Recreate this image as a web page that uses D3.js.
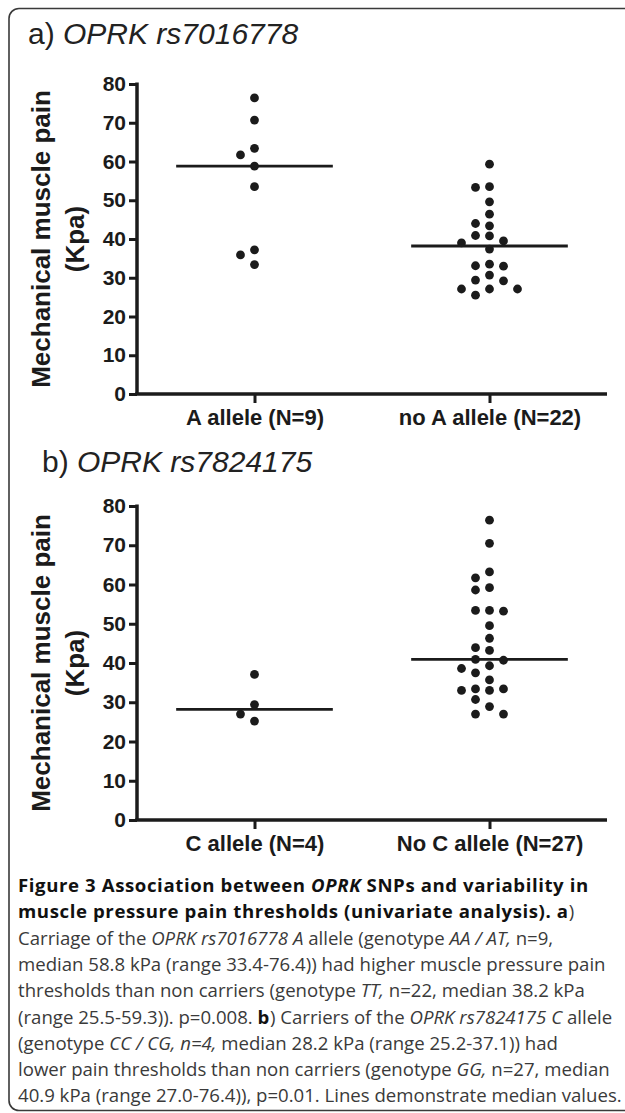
<!DOCTYPE html>
<html>
<head>
<meta charset="utf-8">
<script src="https://cdn.jsdelivr.net/npm/d3@7"></script>
<style>
  body { margin: 0; background: #fff; }
  svg { display: block; }
</style>
</head>
<body>
<div id="chart"></div>
<script>
// values (kPa)
const aAllele = [76.4, 70.7, 63.4, 61.7, 58.8, 53.5, 37.2, 35.9, 33.4];
const noAAllele = [59.3, 53.5, 53.3, 49.6, 46.4, 44.0, 43.4, 40.9, 40.8, 39.5, 39.0, 37.4,
  33.5, 33.1, 33.0, 30.7, 29.4, 29.2, 27.1, 27.1, 27.1, 25.5];
const cAllele = [37.1, 29.4, 27.0, 25.2];
const noCAllele = [76.4, 70.5, 63.2, 61.7, 59.2, 58.6, 53.4, 53.4, 53.2, 49.5, 46.3, 43.9, 43.2,
  40.9, 40.7, 39.3, 38.6, 37.5, 35.7, 33.4, 33.4, 33.0, 33.0, 30.7, 28.9, 27.0, 27.0];

const categoriesA = ['A allele (N=9)', 'no A allele (N=22)'];
const categoriesB = ['C allele (N=4)', 'No C allele (N=27)'];
const yTicks = [0, 10, 20, 30, 40, 50, 60, 70, 80];
const yTitle = ['Mechanical muscle pain', '(Kpa)'];

const captionLines = [
  [['Figure 3 Association between ', 'b'], ['OPRK', 'bi'], [' SNPs and variability in', 'b']],
  [['muscle pressure pain thresholds (univariate analysis). a', 'b'], [')', 'r']],
  [['Carriage of the ', 'r'], ['OPRK rs7016778 A', 'i'], [' allele (genotype ', 'r'], ['AA / AT,', 'i'], [' n=9,', 'r']],
  [['median 58.8 kPa (range 33.4-76.4)) had higher muscle pressure pain', 'r']],
  [['thresholds than non carriers (genotype ', 'r'], ['TT,', 'i'], [' n=22, median 38.2 kPa', 'r']],
  [['(range 25.5-59.3)). p=0.008. ', 'r'], ['b', 'b'], [') Carriers of the ', 'r'], ['OPRK rs7824175 C', 'i'], [' allele', 'r']],
  [['(genotype ', 'r'], ['CC / CG, n=4,', 'i'], [' median 28.2 kPa (range 25.2-37.1)) had', 'r']],
  [['lower pain thresholds than non carriers (genotype ', 'r'], ['GG,', 'i'], [' n=27, median', 'r']],
  [['40.9 kPa (range 27.0-76.4)), p=0.01. Lines demonstrate median values.', 'r']]
];

const W = 625, H = 1113;
const ink = '#1b1b1b';
const chartFont = '"Liberation Sans", Arial, Helvetica, sans-serif';

const svg = d3.select('#chart').append('svg')
  .attr('width', W)
  .attr('height', H);

svg.append('rect')
  .attr('width', W).attr('height', H)
  .attr('fill', '#fff');

// frame of the figure, open on the right
svg.append('rect')
  .attr('x', 9).attr('y', 8.5)
  .attr('width', 700).attr('height', 1102)
  .attr('rx', 10)
  .attr('fill', 'none')
  .attr('stroke', '#3a3a3a')
  .attr('stroke-width', 1.6);

// greedy column scatter: points that would overlap move to side columns
function swarm(values, y, minGap) {
  const pts = values.map(function(v) { return {v: v, py: y(v)}; })
    .sort(function(a, b) { return a.py - b.py; });
  const tries = [0, -1, 1, -2, 2, -3, 3];
  const placed = [];
  pts.forEach(function(p) {
    for (const c of tries) {
      const hit = placed.some(function(q) { return q.col === c && Math.abs(q.py - p.py) < minGap; });
      if (!hit) { p.col = c; break; }
    }
    placed.push(p);
  });
  return placed;
}

function drawPanel(top, title, cats, groups) {
  const g = svg.append('g');

  const y = d3.scaleLinear()
    .domain([0, 80])
    .range([top.y0, top.y80]);

  const x = d3.scalePoint()
    .domain(cats)
    .range([137, 607])
    .padding(0.5);

  // panel title
  const t = g.append('text')
    .attr('x', title.x)
    .attr('y', title.y)
    .style('font-family', chartFont)
    .style('font-size', '30px')
    .attr('fill', '#222');
  t.append('tspan').text(title.label);
  t.append('tspan').style('font-style', 'italic').text(title.gene);

  // y axis
  const yAxis = g.append('g')
    .attr('transform', 'translate(137,0)')
    .call(d3.axisLeft(y).tickValues(yTicks).tickSize(8).tickPadding(3))
    .style('font-family', chartFont)
    .style('font-size', '21px')
    .style('font-weight', 'bold');
  yAxis.select('.domain')
    .attr('stroke', ink)
    .attr('stroke-width', 3.5)
    .attr('d', 'M0,' + (top.y80 - 1.5) + 'V' + top.y0);
  yAxis.selectAll('.tick line').attr('stroke', ink).attr('stroke-width', 3);
  yAxis.selectAll('.tick text').attr('fill', ink);

  // x axis
  const xAxis = g.append('g')
    .attr('transform', 'translate(0,' + top.y0 + ')')
    .call(d3.axisBottom(x).tickSize(9).tickPadding(6))
    .style('font-family', chartFont)
    .style('font-size', '22px')
    .style('font-weight', 'bold');
  xAxis.select('.domain')
    .attr('stroke', ink)
    .attr('stroke-width', 3.5)
    .attr('d', 'M135.25,0H607');
  xAxis.selectAll('.tick line').attr('stroke', ink).attr('stroke-width', 3);
  xAxis.selectAll('.tick text').attr('fill', ink);

  // y axis title, two lines
  const yt = g.append('text')
    .attr('transform', 'translate(50,' + (top.y0 + top.y80) / 2 + ') rotate(-90)')
    .attr('text-anchor', 'middle')
    .style('font-family', chartFont)
    .style('font-size', '26px')
    .style('font-weight', 'bold')
    .attr('fill', ink);
  yt.append('tspan').attr('x', 0).attr('y', 0).text(yTitle[0]);
  yt.append('tspan').attr('x', 0).attr('y', 34).text(yTitle[1]);

  // points and medians
  groups.forEach(function(vals, i) {
    const cx = x(cats[i]);
    const pts = swarm(vals, y, 10);
    g.selectAll(null)
      .data(pts)
      .enter()
      .append('circle')
      .attr('cx', function(d) { return cx + d.col * 14; })
      .attr('cy', function(d) { return d.py; })
      .attr('r', 4.4)
      .attr('fill', ink);

    const med = d3.median(vals);
    g.append('line')
      .attr('x1', cx - x.step() / 3)
      .attr('x2', cx + x.step() / 3)
      .attr('y1', y(med))
      .attr('y2', y(med))
      .attr('stroke', ink)
      .attr('stroke-width', 2.8);
  });
}

drawPanel({y0: 394, y80: 84}, {x: 28, y: 44, label: 'a) ', gene: 'OPRK rs7016778'},
  categoriesA, [aAllele, noAAllele]);
drawPanel({y0: 820, y80: 506}, {x: 42, y: 472, label: 'b) ', gene: 'OPRK rs7824175'},
  categoriesB, [cAllele, noCAllele]);

// caption
const cap = svg.append('g')
  .style('font-family', '"Open Sans", "Noto Sans", sans-serif')
  .style('font-size', '18.6px');

captionLines.forEach(function(line, i) {
  const tx = cap.append('text')
    .attr('x', 18)
    .attr('y', 892 + i * 26.3);
  tx.selectAll('tspan')
    .data(line)
    .enter()
    .append('tspan')
    .text(function(d) { return d[0]; })
    .style('font-weight', function(d) { return d[1].indexOf('b') >= 0 ? 'bold' : 'normal'; })
    .style('font-style', function(d) { return d[1].indexOf('i') >= 0 ? 'italic' : 'normal'; })
    .style('letter-spacing', function(d) { return d[1].indexOf('b') >= 0 ? '0.6px' : '0px'; })
    .attr('fill', function(d) { return d[1].indexOf('b') >= 0 ? '#111' : '#3a3a3a'; });
});
</script>
</body>
</html>
